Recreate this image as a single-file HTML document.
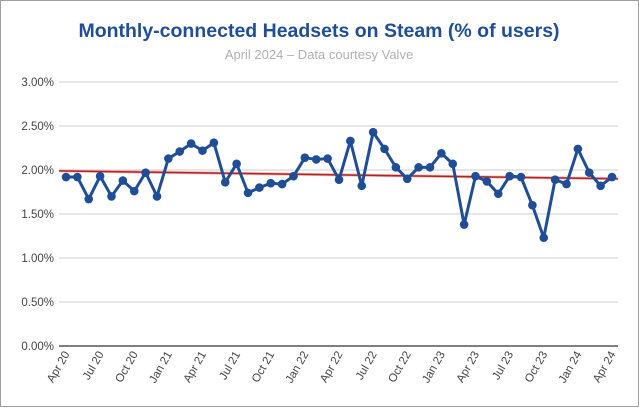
<!DOCTYPE html>
<html><head><meta charset="utf-8"><style>
body{margin:0;background:#fff;}
svg{display:block;font-family:"Liberation Sans",sans-serif;}
</style></head><body>
<svg id="s" width="639" height="408" xmlns="http://www.w3.org/2000/svg">
<rect x="0.5" y="0.5" width="638" height="406" fill="#fff" stroke="#9e9e9e"/>
<text x="319" y="37" text-anchor="middle" font-size="19.5" font-weight="bold" fill="#1f4e96">Monthly-connected Headsets on Steam (% of users)</text>
<text x="319" y="59" text-anchor="middle" font-size="13" fill="#b0b0b0">April 2024 – Data courtesy Valve</text>
<g id="g"></g>
</svg>
<script>
var g=document.getElementById('g'),h='';
var vals=[1.92,1.92,1.67,1.93,1.70,1.88,1.76,1.97,1.70,2.13,2.21,2.30,2.22,2.31,1.86,2.07,1.74,1.80,1.85,1.84,1.93,2.14,2.12,2.13,1.89,2.33,1.82,2.43,2.24,2.03,1.90,2.03,2.03,2.19,2.07,1.38,1.93,1.87,1.73,1.93,1.92,1.60,1.23,1.89,1.84,2.24,1.97,1.82,1.92];
function Y(v){return 346-v*88;}function X(i){return 66+i*11.375;}
for(var k=1;k<=6;k++){var y=Y(k*0.5);h+='<line x1="59" x2="618" y1="'+y+'" y2="'+y+'" stroke="#cccccc"/>';}
for(var k=0;k<=6;k++){h+='<text x="54" y="'+(Y(k*0.5)+4)+'" text-anchor="end" font-size="11.5" fill="#444">'+(k*0.5).toFixed(2)+'%</text>';}
h+='<line x1="59" x2="618" y1="346" y2="346" stroke="#333" stroke-width="1.3"/>';
var m=['Apr','Jul','Oct','Jan'];
for(var i=0;i<49;i+=3){var j=(i/3)%4;var yr=20+Math.floor((i+3)/12);var x=X(i)+4,y=354;
h+='<text x="'+x+'" y="'+y+'" text-anchor="end" font-size="11.5" fill="#444" transform="rotate(-60 '+x+' '+y+')">'+m[j]+' '+yr+'</text>';}
h+='<line x1="59" x2="618" y1="'+Y(1.99)+'" y2="'+Y(1.90)+'" stroke="#f4b4b4" stroke-width="3"/>';
h+='<line x1="59" x2="618" y1="'+Y(1.99)+'" y2="'+Y(1.90)+'" stroke="#b22222" stroke-width="1.5"/>';
var p='';for(var i=0;i<49;i++)p+=X(i)+','+Y(vals[i])+' ';
h+='<polyline points="'+p+'" fill="none" stroke="#1f4e96" stroke-width="3" stroke-linejoin="round"/>';
for(var i=0;i<49;i++)h+='<circle cx="'+X(i)+'" cy="'+Y(vals[i])+'" r="4.3" fill="#1f4e96"/>';
g.innerHTML=h;
</script>
</body></html>
